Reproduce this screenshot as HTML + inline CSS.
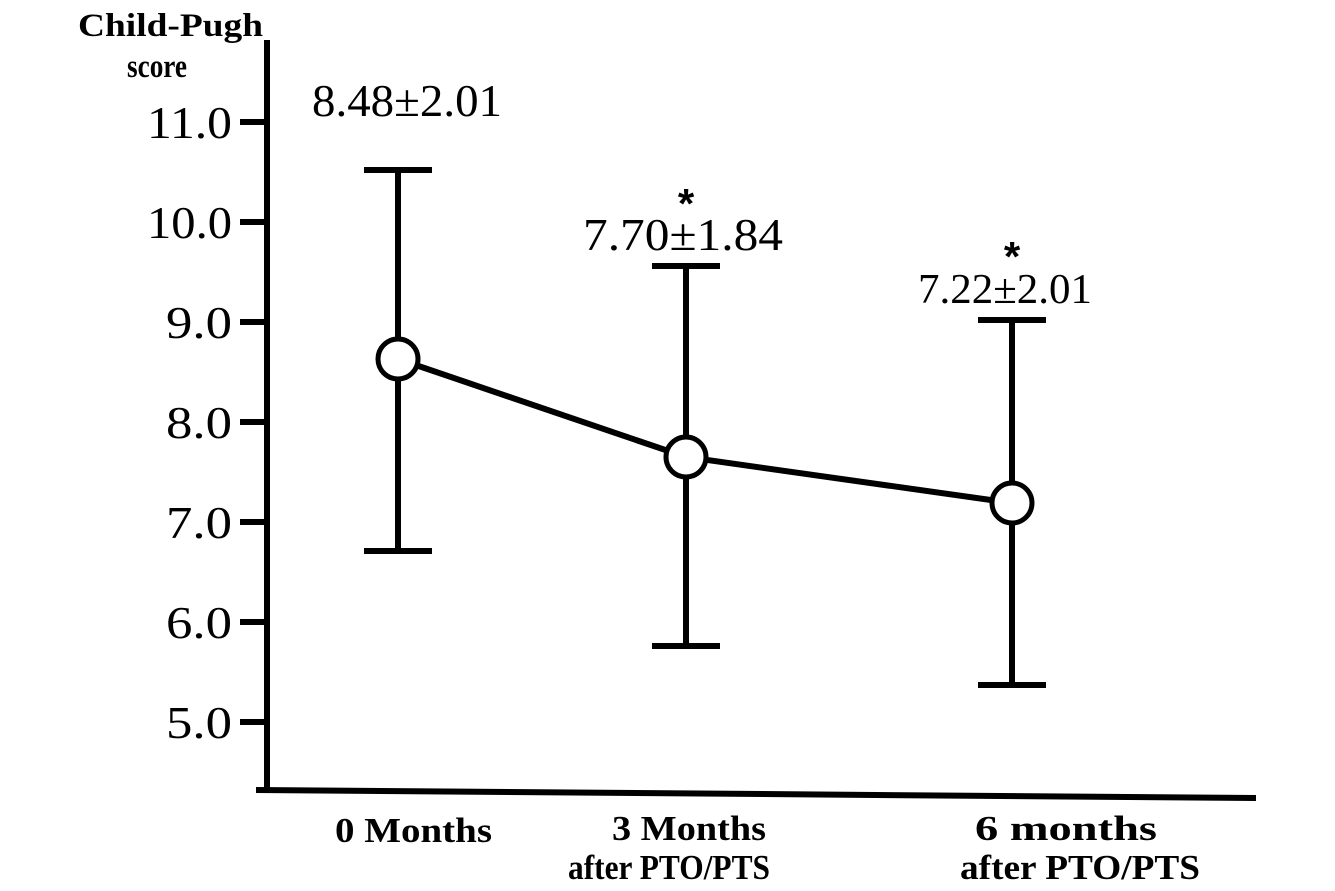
<!DOCTYPE html>
<html><head><meta charset="utf-8"><style>
html,body{margin:0;padding:0;background:#fff;}
svg{display:block;font-family:"Liberation Serif",serif;}
</style></head><body>
<svg id="chart" width="1335" height="891" viewBox="0 0 1335 891">
<g id="axes"></g><g id="marks"></g><g id="labels"></g>
</svg>
<script>
const categories = ["0 Months", "3 Months|after PTO/PTS", "6 months|after PTO/PTS"];
const means = [8.63, 7.65, 7.19];
const upper = [10.52, 9.56, 9.02];
const lower = [6.71, 5.76, 5.37];
const meanLabels = ["8.48\u00b12.01", "7.70\u00b11.84", "7.22\u00b12.01"];
const significant = [false, true, true];
const yTicks = [5, 6, 7, 8, 9, 10, 11];

const NS = "http://www.w3.org/2000/svg";
const xPos = [398, 686, 1012];
function y(v){ return 722 - (v - 5) * 100; }
function mk(tag, attrs, parent){
  const e = document.createElementNS(NS, tag);
  for (const k in attrs) e.setAttribute(k, attrs[k]);
  parent.appendChild(e); return e;
}
const axes = document.getElementById('axes'), marks = document.getElementById('marks'), labels = document.getElementById('labels');

let yl = mk('line', {x1:267, y1:40, x2:267, y2:793, stroke:'#000', 'stroke-width':6}, axes);


let xl = mk('line', {x1:256, y1:790, x2:1256, y2:798, stroke:'#000', 'stroke-width':6}, axes);



yTicks.forEach(t => {
  const tk = mk('line', {x1:240, y1:y(t), x2:267, y2:y(t), stroke:'#000', 'stroke-width':6}, axes);
  
  
  const w = t >= 10 ? 85 : 66;
  const tl = mk('text', {x:232-w, y:y(t)+16, 'font-size':46, textLength:w, lengthAdjust:'spacingAndGlyphs'}, axes);
  tl.textContent = t.toFixed(1);
  
  
});

const t1 = mk('text', {x:78, y:36, 'font-size':33, 'font-weight':'bold', textLength:185, lengthAdjust:'spacingAndGlyphs'}, labels);
t1.textContent = 'Child-Pugh';


const t2 = mk('text', {x:127, y:77, 'font-size':33, 'font-weight':'bold', textLength:60, lengthAdjust:'spacingAndGlyphs'}, labels);
t2.textContent = 'score';



const pts = means.map((m,i)=>xPos[i]+','+y(m)).join(' ');
const pl = mk('polyline', {points:pts, fill:'none', stroke:'#000', 'stroke-width':6}, marks);



const labelBox = [[312,116,190],[583,250,200],[918,303,174]];
const catBox = [[[335,840,157]],[[612,838,154],[568,877,202]],[[975,838,182],[960,877,240]]];
means.forEach((m,i) => {
  const x = xPos[i];
  const eb = mk('line', {x1:x, y1:y(upper[i]), x2:x, y2:y(lower[i]), stroke:'#000', 'stroke-width':6}, marks);
  
  
  [upper[i], lower[i]].forEach(v => {
    const cap = mk('line', {x1:x-34, y1:y(v), x2:x+34, y2:y(v), stroke:'#000', 'stroke-width':6}, marks);
    
    
  });
  const c = mk('circle', {cx:x, cy:y(m), r:20, fill:'#fff', stroke:'#000', 'stroke-width':5}, marks);
  
  

  const b = labelBox[i];
  const ml = mk('text', {x:b[0], y:b[1], 'font-size':i===2?42:46, textLength:b[2], lengthAdjust:'spacingAndGlyphs'}, labels);
  ml.textContent = meanLabels[i];
  
  
  if (significant[i]) {
    const s = mk('text', {x:x, y:b[1]-32, 'text-anchor':'middle', 'font-size':42, 'font-weight':'bold', 'font-family':'Liberation Sans, sans-serif'}, labels);
    s.textContent = '*';
    
    
  }
  const lines = categories[i].split('|');
  lines.forEach((ln, j) => {
    const cb = catBox[i][j];
    const ct = mk('text', {x:cb[0], y:cb[1]+2, 'font-size':35, 'font-weight':'bold', textLength:cb[2], lengthAdjust:'spacingAndGlyphs'}, labels);
    ct.textContent = ln;
    
    
  });
});
</script>
</body></html>
